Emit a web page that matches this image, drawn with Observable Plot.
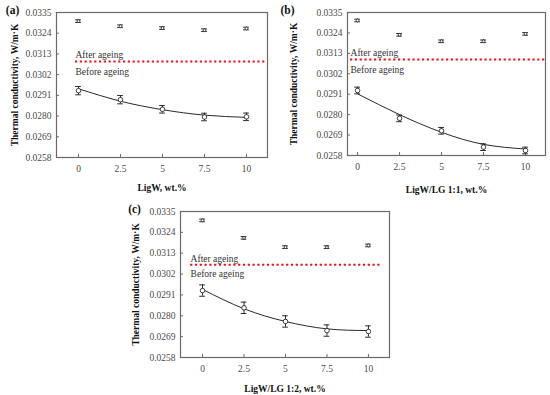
<!DOCTYPE html>
<html>
<head>
<meta charset="utf-8">
<script src="https://cdn.jsdelivr.net/npm/d3@7"></script>
<script src="https://cdn.jsdelivr.net/npm/@observablehq/plot@0.6"></script>
<style>
  html, body { margin: 0; padding: 0; background: #fff; }
  #wrap { position: relative; width: 550px; height: 395px; overflow: hidden; background: #fff; }
  .panel { position: absolute; }
</style>
</head>
<body>
<div id="wrap"></div>
<script>
// ---- data ----
const xValues = [0, 2.5, 5, 7.5, 10];
const yTickValues = [0.0258, 0.0269, 0.0280, 0.0291, 0.0302, 0.0313, 0.0324, 0.0335];
const panelLabels = ["(a)", "(b)", "(c)"];
const xTitles = ["LigW, wt.%", "LigW/LG 1:1, wt.%", "LigW/LG 1:2, wt.%"];
const yTitle = "Thermal conductivity, W/m·K";
const afterText = "After ageing";
const beforeText = "Before ageing";

const afterA = [0.03304, 0.03277, 0.03267, 0.03256, 0.03265];
const afterErrA = [0.00007, 0.00007, 0.00007, 0.00007, 0.00007];
const beforeA = [0.02935, 0.02887, 0.02836, 0.02795, 0.02796];
const beforeErrA = [0.00022, 0.00022, 0.00020, 0.00020, 0.00020];
const fitA = [0.02945, 0.02879, 0.02834, 0.02805, 0.02793];
const refA = 0.0309;

const afterB = [0.03307, 0.03230, 0.03195, 0.03195, 0.03235];
const afterErrB = [0.00007, 0.00007, 0.00007, 0.00007, 0.00007];
const beforeB = [0.02930, 0.02780, 0.02713, 0.02625, 0.02607];
const beforeErrB = [0.00018, 0.00018, 0.00018, 0.00018, 0.00018];
const fitB = [0.02912, 0.02800, 0.02705, 0.02640, 0.02615];
const refB = 0.03097;

const afterC = [0.03303, 0.03211, 0.03162, 0.03162, 0.03171];
const afterErrC = [0.00007, 0.00007, 0.00007, 0.00007, 0.00007];
const beforeC = [0.02933, 0.02842, 0.02770, 0.02722, 0.02717];
const beforeErrC = [0.00030, 0.00030, 0.00030, 0.00030, 0.00030];
const fitC = [0.02939, 0.02837, 0.02770, 0.02731, 0.02722];
const refC = 0.03069;

// ---- layout (not data) ----
const layouts = [
  {left: 0, top: 0, width: 275, height: 197, mL: 56, mR: 8, mT: 12, mB: 40, xDomain: [-1.31, 11.25],
   refStart: -0.18, refEnd: 11.25, yTitleDx: -42, xTitleDy: 30, tagDx: -44, annDyA: -7, annDyB: 10},
  {left: 275, top: 0, width: 275, height: 197, mL: 72, mR: 5, mT: 12, mB: 42, xDomain: [-0.6, 11.19],
   refStart: -0.42, refEnd: 11.19, yTitleDx: -54, xTitleDy: 34, tagDx: -60, annDyA: -7, annDyB: 10},
  {left: 110, top: 197, width: 300, height: 198, mL: 70, mR: 21, mT: 14, mB: 38, xDomain: [-1.33, 11.27],
   refStart: -0.72, refEnd: 10.84, yTitleDx: -45, xTitleDy: 31, tagDx: -46, annDyA: -6, annDyB: 9}
];

const series = [
  {after: afterA, afterErr: afterErrA, before: beforeA, beforeErr: beforeErrA, fit: fitA, ref: refA},
  {after: afterB, afterErr: afterErrB, before: beforeB, beforeErr: beforeErrB, fit: fitB, ref: refB},
  {after: afterC, afterErr: afterErrC, before: beforeC, beforeErr: beforeErrC, fit: fitC, ref: refC}
];

const font = "'Liberation Serif', 'Times New Roman', serif";
const ink = "#2a2a2a";
const cap = 0.17;

function makePanel(i) {
  const L = layouts[i], S = series[i];
  const after = xValues.map((x, j) => ({x, v: S.after[j], e: S.afterErr[j]}));
  const before = xValues.map((x, j) => ({x, v: S.before[j], e: S.beforeErr[j]}));
  const fit = xValues.map((x, j) => ({x, v: S.fit[j]}));
  const plotH = L.height - L.mT - L.mB;
  const plotW = L.width - L.mL - L.mR;
  const errMarks = (data, r) => [
    Plot.ruleX(data, {x: "x", y1: d => d.v - d.e, y2: d => d.v + d.e, stroke: ink, strokeWidth: 1}),
    Plot.ruleY(data, {y: d => d.v - d.e, x1: d => d.x - cap, x2: d => d.x + cap, stroke: ink, strokeWidth: 1}),
    Plot.ruleY(data, {y: d => d.v + d.e, x1: d => d.x - cap, x2: d => d.x + cap, stroke: ink, strokeWidth: 1}),
    Plot.dot(data, {x: "x", y: "v", r, stroke: ink, fill: "white", strokeWidth: 0.9})
  ];
  return Plot.plot({
    width: L.width,
    height: L.height,
    marginLeft: L.mL, marginRight: L.mR, marginTop: L.mT, marginBottom: L.mB,
    style: {fontFamily: font, fontSize: "9.5px", color: "#444", background: "white", overflow: "visible"},
    x: {domain: L.xDomain},
    y: {domain: [0.0258, 0.0335]},
    marks: [
      Plot.frame({stroke: "#6a6a6a", strokeWidth: 1.2}),
      Plot.axisY({ticks: yTickValues, tickFormat: d => d.toFixed(4), tickSize: 0, tickPadding: 5, label: null, fill: "#4a4a4a"}),
      Plot.axisX({ticks: xValues, tickFormat: d => String(d), tickSize: 0, tickPadding: 8, label: null, fill: "#4a4a4a"}),
      Plot.ruleX(xValues, {x: d => d, insetTop: plotH - 3, stroke: "#6a6a6a"}),
      Plot.ruleY(yTickValues.slice(1, -1), {y: d => d, insetRight: plotW - 3, stroke: "#6a6a6a"}),
      Plot.ruleY([S.ref], {y: d => d, x1: L.refStart, x2: L.refEnd, stroke: "#e8141c", strokeWidth: 2, strokeDasharray: "2.2,2.6"}),
      Plot.text([S.ref], {y: d => d, x: L.refStart, text: () => afterText, textAnchor: "start", dy: L.annDyA, fill: "#333", fontSize: 9.5}),
      Plot.text([S.ref], {y: d => d, x: L.refStart, text: () => beforeText, textAnchor: "start", dy: L.annDyB, fill: "#333", fontSize: 9.5}),
      Plot.line(fit, {x: "x", y: "v", curve: "natural", stroke: ink, strokeWidth: 1}),
      ...errMarks(after, 1.4),
      ...errMarks(before, 2.3),
      Plot.text([yTitle], {frameAnchor: "left", textAnchor: "middle", lineAnchor: "middle", text: d => d, rotate: -90, dx: L.yTitleDx, fontWeight: "bold", fontSize: 9.5, fill: "#111"}),
      Plot.text([xTitles[i]], {frameAnchor: "bottom", textAnchor: "middle", lineAnchor: "middle", text: d => d, dy: L.xTitleDy, fontWeight: "bold", fontSize: 9.5, fill: "#111"}),
      Plot.text([panelLabels[i]], {frameAnchor: "top-left", textAnchor: "middle", lineAnchor: "middle", text: d => d, dx: L.tagDx, dy: -2, fontWeight: "bold", fontSize: 11.5, fill: "#111"})
    ]
  });
}

const wrap = document.getElementById("wrap");
layouts.forEach((L, i) => {
  const div = document.createElement("div");
  div.className = "panel";
  div.style.left = L.left + "px";
  div.style.top = L.top + "px";
  div.appendChild(makePanel(i));
  wrap.appendChild(div);
});
</script>
</body>
</html>
